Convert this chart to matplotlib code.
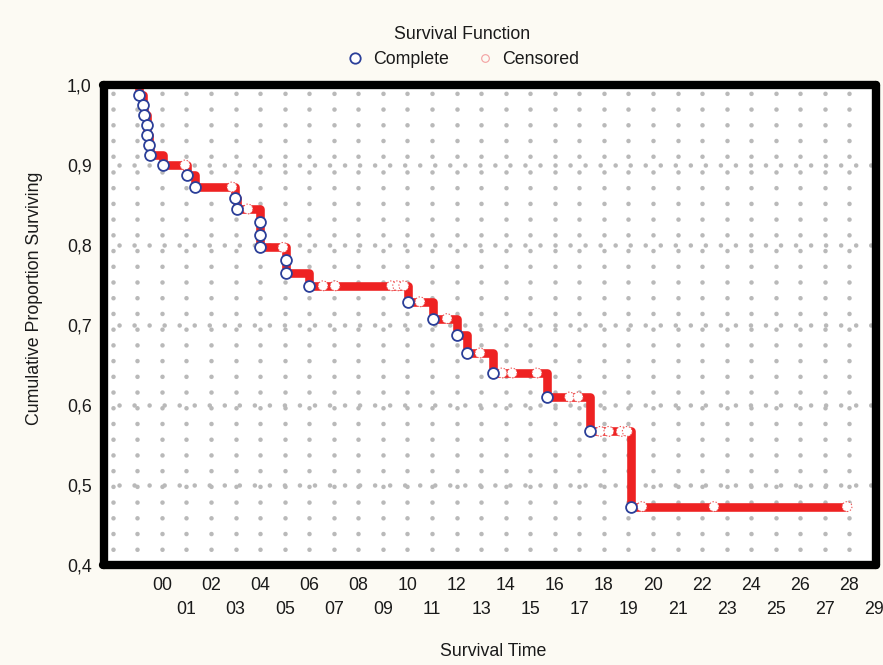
import matplotlib
matplotlib.use('Agg')
import matplotlib.pyplot as plt
from matplotlib.lines import Line2D
from matplotlib.ticker import FixedLocator, FixedFormatter

plt.rcParams['font.family'] = ['Liberation Sans', 'DejaVu Sans']

# ---------------- data ----------------
start_time = -1.05
end_time = 27.9
event_times = [-0.94, -0.77, -0.73, -0.61, -0.61, -0.53, -0.49, 0.04, 1.02, 1.34,
               2.97, 3.05, 3.99, 3.99, 3.99, 5.05, 5.05, 5.99, 10.02, 11.04,
               12.02, 12.42, 13.48, 15.68, 17.43, 19.10]
event_surv = [0.9875, 0.975, 0.9625, 0.95, 0.9375, 0.925, 0.9125, 0.900, 0.8875, 0.8725,
              0.859, 0.845, 0.829, 0.813, 0.797, 0.781, 0.765, 0.749, 0.729, 0.708,
              0.687, 0.665, 0.640, 0.610, 0.567, 0.473]
cens_times = [0.94, 2.85, 3.50, 4.93, 6.56, 7.05, 9.35, 9.6, 9.85, 10.51, 11.61, 12.95,
              13.85, 14.26, 15.27, 16.6, 16.95, 17.85, 18.2, 18.7, 18.95,
              19.55, 22.48, 27.9]
cens_surv = [0.900, 0.8725, 0.845, 0.797, 0.749, 0.749, 0.749, 0.749, 0.749, 0.729, 0.708, 0.665,
             0.640, 0.640, 0.640, 0.610, 0.610, 0.567, 0.567, 0.567, 0.567,
             0.473, 0.473, 0.473]

x_even_ticks = [-2, 0, 2, 4, 6, 8, 10, 12, 14, 16, 18, 20, 22, 24, 26, 28]
x_even_labels = ['', '00', '02', '04', '06', '08', '10', '12', '14', '16', '18',
                 '20', '22', '24', '26', '28']
x_odd_ticks = [-1, 1, 3, 5, 7, 9, 11, 13, 15, 17, 19, 21, 23, 25, 27, 29]
x_odd_labels = ['', '01', '03', '05', '07', '09', '11', '13', '15', '17', '19',
                '21', '23', '25', '27', '29']
y_ticks = [0.4, 0.5, 0.6, 0.7, 0.8, 0.9, 1.0]
y_tick_labels = ['0,4', '0,5', '0,6', '0,7', '0,8', '0,9', '1,0']
y_minor_ticks = [0.42, 0.44, 0.46, 0.48, 0.52, 0.54, 0.56, 0.58, 0.62, 0.64, 0.66, 0.68,
                 0.72, 0.74, 0.76, 0.78, 0.82, 0.84, 0.86, 0.88, 0.92, 0.94, 0.96, 0.98]

# ---------------- styling ----------------
BG = '#fcfaf3'
RED = '#ee2222'
BLUE = '#2b3f99'
GRID = '#b9b9b9'
FS = 12.8

fig = plt.figure(figsize=(8.83, 6.65), dpi=100, facecolor=BG)
ax = fig.add_axes([103.5 / 883, 1 - 565 / 665, (876 - 103.5) / 883, 480 / 665])
ax.set_facecolor('white')
ax.set_xlim(-2.38, 29.08)
ax.set_ylim(0.4, 1.0)

# step curve
xs = [start_time] + event_times + [end_time]
ys = [1.0] + event_surv + [event_surv[-1]]
ax.step(xs, ys, where='post', color=RED, lw=6.2, solid_joinstyle='round',
        solid_capstyle='butt', zorder=3)

ax.scatter(cens_times, cens_surv, s=50, facecolors='white', edgecolors='#ee5555',
           linewidths=0.8, linestyles=(0, (1.2, 1.6)), zorder=4)
ax.plot(event_times, event_surv, 'o', mfc='white', mec=BLUE, ms=7.8, mew=1.3,
        zorder=5, clip_on=False)

# ticks
ax.xaxis.set_major_locator(FixedLocator(x_even_ticks))
ax.xaxis.set_major_formatter(FixedFormatter(x_even_labels))
ax.xaxis.set_minor_locator(FixedLocator(x_odd_ticks))
ax.xaxis.set_minor_formatter(FixedFormatter(x_odd_labels))
ax.yaxis.set_major_locator(FixedLocator(y_ticks))
ax.yaxis.set_major_formatter(FixedFormatter(y_tick_labels))
ax.yaxis.set_minor_locator(FixedLocator(y_minor_ticks))

ax.tick_params(axis='x', which='both', direction='in', length=2.5, width=3.5,
               top=True, bottom=True, labelsize=FS, labelcolor='#1a1a1a')
ax.tick_params(axis='x', which='major', pad=9)
ax.tick_params(axis='x', which='minor', pad=26)
ax.tick_params(axis='y', which='both', direction='out', length=1.5, width=3.5,
               left=True, right=True, labelsize=FS, labelcolor='#1a1a1a')
ax.tick_params(axis='y', which='major', pad=7)

for sp in ax.spines.values():
    sp.set_linewidth(6.0)
    sp.set_color('black')
    sp.set_capstyle('round')
    sp.set_zorder(6)

ax.grid(True, axis='x', which='both', color=GRID, lw=3.3,
        linestyle=(0, (0.01, 3.42)), dash_capstyle='round', zorder=1)
ax.grid(True, axis='y', which='major', color=GRID, lw=3.3,
        linestyle=(0, (0.01, 3.27)), dash_capstyle='round', zorder=1)
ax.set_axisbelow(True)

fig.text(35 / 883, 1 - 298 / 665, 'Cumulative Proportion Surviving', rotation=90,
         ha='center', va='center', fontsize=FS, color='#1a1a1a')
fig.text(493 / 883, 1 - 651 / 665, 'Survival Time', ha='center', va='center',
         fontsize=FS, color='#1a1a1a')

handles = [
    Line2D([], [], marker='o', ls='none', mfc='white', mec=BLUE, ms=7.5, mew=1.3),
    Line2D([], [], marker='o', ls='none', mfc='none', mec='#f3a0a0', ms=5.5, mew=0.8),
]
leg = fig.legend(handles, ['Complete', 'Censored'], title='Survival Function',
                 loc='center', bbox_to_anchor=(462 / 883, 1 - 47 / 665), ncol=2,
                 frameon=False, fontsize=FS, title_fontsize=FS, columnspacing=1.4,
                 handletextpad=0.4, handlelength=1.2)
for t in leg.get_texts():
    t.set_color('#1a1a1a')
leg.get_title().set_color('#1a1a1a')

fig.savefig('out.png', dpi=100, facecolor=BG)
